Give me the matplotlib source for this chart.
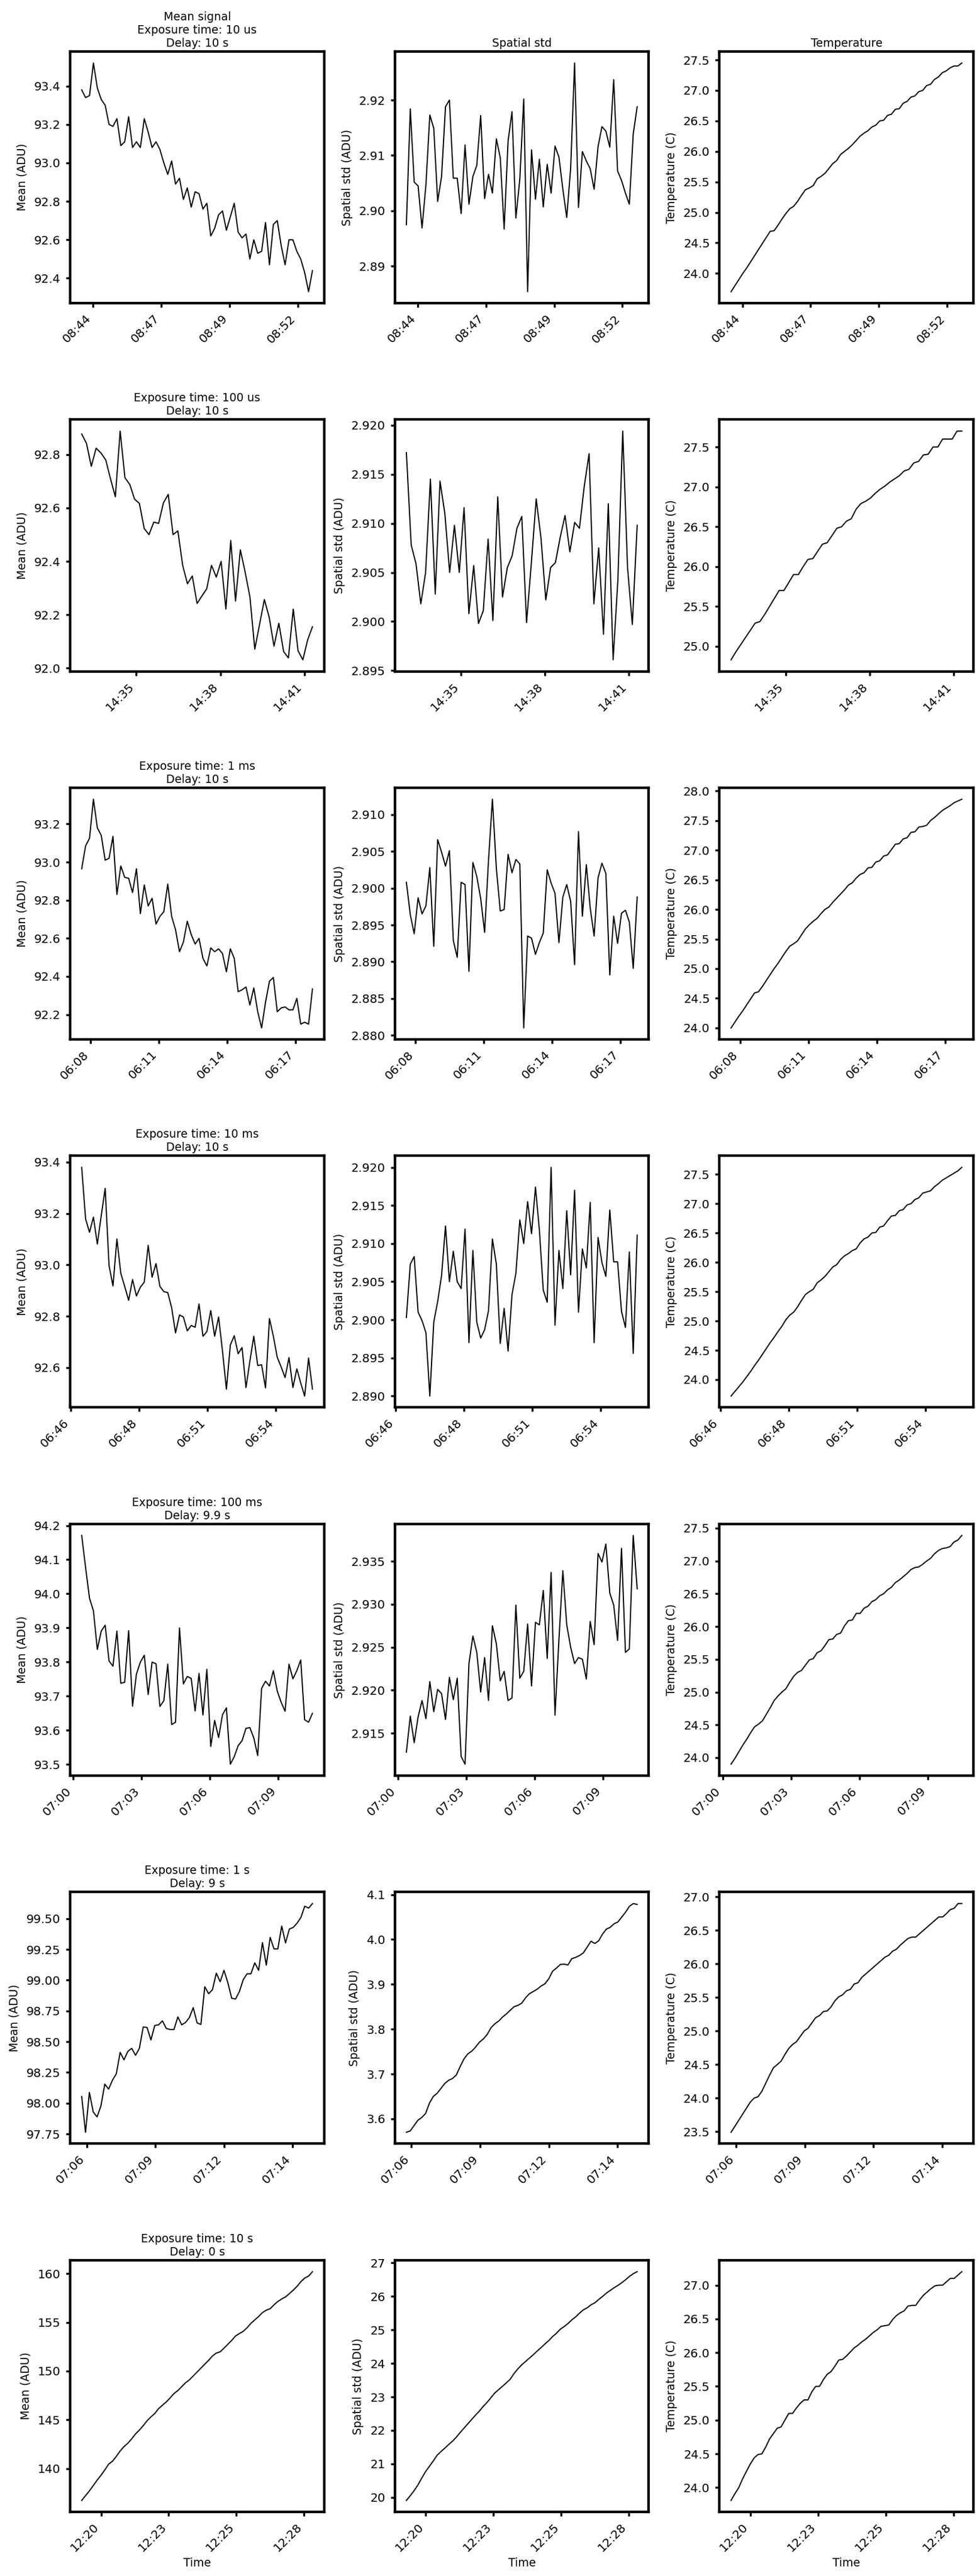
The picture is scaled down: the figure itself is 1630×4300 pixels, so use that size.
import numpy as np
import pandas as pd
import matplotlib
matplotlib.use('Agg')
import matplotlib.pyplot as plt
import matplotlib.dates as mdates

# one row per acquisition run
exposures = ['10 us', '100 us', '1 ms', '10 ms', '100 ms', '1 s', '10 s']
delays = ['10 s', '10 s', '10 s', '10 s', '9.9 s', '9 s', '0 s']
day = '2021-03-01 '
starts = ['08:44:05', '14:33:03', '06:07:36', '06:46:36', '07:00:22', '07:06:18', '12:19:47']
intervals = [8.6, 10.3, 10.31, 9.45, 10.3, 9.24, 8.53]   # seconds between samples
tick_times = [
    ['08:44:30', '08:47:00', '08:49:30', '08:52:00'],
    ['14:35:00', '14:38:00', '14:41:00'],
    ['06:08:00', '06:11:00', '06:14:00', '06:17:00'],
    ['06:46:10', '06:48:55', '06:51:40', '06:54:25'],
    ['07:00:00', '07:03:00', '07:06:00', '07:09:00'],
    ['07:06:30', '07:09:15', '07:12:00', '07:14:45'],
    ['12:20:30', '12:23:00', '12:25:30', '12:28:00'],
]

mean_10us = [93.38, 93.34, 93.35, 93.52, 93.39, 93.33, 93.30, 93.20, 93.19, 93.23,
             93.09, 93.11, 93.24, 93.08, 93.11, 93.08, 93.23, 93.16, 93.08, 93.11,
             93.07, 93.00, 92.94, 93.01, 92.89, 92.92, 92.81, 92.87, 92.77, 92.85,
             92.84, 92.76, 92.79, 92.62, 92.66, 92.73, 92.75, 92.65, 92.72, 92.79,
             92.64, 92.61, 92.63, 92.50, 92.60, 92.53, 92.54, 92.69, 92.47, 92.68,
             92.70, 92.57, 92.47, 92.60, 92.60, 92.54, 92.50, 92.43, 92.33, 92.44]
std_10us = [2.8975, 2.9184, 2.9052, 2.9045, 2.8969, 2.9047, 2.9173, 2.9149, 2.9017, 2.9062,
            2.9188, 2.9200, 2.9059, 2.9059, 2.8995, 2.9119, 2.9012, 2.9062, 2.9082, 2.9172,
            2.9022, 2.9066, 2.9032, 2.9130, 2.9096, 2.8967, 2.9126, 2.9179, 2.8987, 2.9057,
            2.9202, 2.8854, 2.9110, 2.9021, 2.9093, 2.9007, 2.9084, 2.9032, 2.9117, 2.9097,
            2.9039, 2.8988, 2.9077, 2.9267, 2.9006, 2.9107, 2.9090, 2.9076, 2.9039, 2.9116,
            2.9152, 2.9144, 2.9115, 2.9237, 2.9072, 2.9055, 2.9032, 2.9012, 2.9139, 2.9188]
temp_10us = [23.70, 23.80, 23.90, 24.00, 24.09, 24.19, 24.29, 24.39, 24.49, 24.59,
             24.69, 24.70, 24.79, 24.89, 24.98, 25.06, 25.10, 25.18, 25.28, 25.37,
             25.40, 25.44, 25.55, 25.59, 25.64, 25.72, 25.80, 25.85, 25.95, 26.00,
             26.05, 26.11, 26.18, 26.25, 26.30, 26.34, 26.40, 26.43, 26.50, 26.51,
             26.59, 26.61, 26.69, 26.70, 26.79, 26.82, 26.89, 26.91, 26.98, 27.00,
             27.08, 27.10, 27.18, 27.22, 27.29, 27.32, 27.37, 27.40, 27.40, 27.45]

mean_100us = [92.877, 92.842, 92.756, 92.824, 92.806, 92.780, 92.709, 92.642, 92.888, 92.713,
              92.688, 92.633, 92.617, 92.523, 92.500, 92.547, 92.542, 92.619, 92.651, 92.500,
              92.514, 92.385, 92.316, 92.345, 92.242, 92.270, 92.297, 92.385, 92.341, 92.400,
              92.221, 92.478, 92.251, 92.443, 92.359, 92.266, 92.071, 92.164, 92.257, 92.190,
              92.082, 92.168, 92.062, 92.038, 92.221, 92.065, 92.031, 92.106, 92.155]
std_100us = [2.9172, 2.9078, 2.9059, 2.9018, 2.9050, 2.9145, 2.9028, 2.9143, 2.9110, 2.9050,
             2.9098, 2.9050, 2.9116, 2.9008, 2.9057, 2.8998, 2.9011, 2.9084, 2.9001, 2.9127,
             2.9025, 2.9055, 2.9067, 2.9095, 2.9107, 2.8999, 2.9060, 2.9125, 2.9085, 2.9022,
             2.9055, 2.9060, 2.9086, 2.9108, 2.9071, 2.9101, 2.9095, 2.9138, 2.9171, 2.9018,
             2.9075, 2.8987, 2.9120, 2.8961, 2.9043, 2.9194, 2.9055, 2.8997, 2.9098]
temp_100us = [24.83, 24.93, 25.02, 25.11, 25.20, 25.29, 25.31, 25.40, 25.50, 25.60,
              25.70, 25.70, 25.80, 25.90, 25.90, 26.00, 26.09, 26.10, 26.19, 26.28,
              26.30, 26.39, 26.48, 26.50, 26.57, 26.60, 26.72, 26.79, 26.82, 26.86,
              26.92, 26.97, 27.01, 27.06, 27.10, 27.14, 27.20, 27.22, 27.30, 27.32,
              27.40, 27.41, 27.50, 27.50, 27.60, 27.60, 27.60, 27.70, 27.70]

mean_1ms = [92.965, 93.085, 93.125, 93.330, 93.180, 93.140, 93.010, 93.020, 93.135, 92.830,
            92.980, 92.920, 92.915, 92.840, 92.965, 92.730, 92.880, 92.770, 92.810, 92.675,
            92.715, 92.740, 92.885, 92.715, 92.645, 92.530, 92.580, 92.690, 92.620, 92.570,
            92.600, 92.495, 92.455, 92.550, 92.530, 92.545, 92.520, 92.425, 92.545, 92.495,
            92.320, 92.330, 92.345, 92.250, 92.340, 92.215, 92.130, 92.265, 92.375, 92.395,
            92.215, 92.235, 92.240, 92.225, 92.225, 92.285, 92.150, 92.160, 92.150, 92.335]
std_1ms = [2.9008, 2.8964, 2.8938, 2.8987, 2.8965, 2.8976, 2.9028, 2.8921, 2.9066, 2.9049,
           2.9030, 2.9051, 2.8929, 2.8906, 2.9008, 2.9005, 2.8887, 2.9035, 2.9016, 2.8986,
           2.8940, 2.9038, 2.9121, 2.9027, 2.8969, 2.8971, 2.9046, 2.9021, 2.9039, 2.9033,
           2.8810, 2.8935, 2.8932, 2.8910, 2.8926, 2.8939, 2.9025, 2.9007, 2.8993, 2.8926,
           2.8988, 2.9005, 2.8982, 2.8896, 2.9077, 2.8962, 2.9032, 2.8973, 2.8935, 2.9014,
           2.9034, 2.9020, 2.8882, 2.8962, 2.8925, 2.8966, 2.8970, 2.8954, 2.8891, 2.8988]
temp_1ms = [24.00, 24.10, 24.20, 24.29, 24.39, 24.49, 24.59, 24.61, 24.70, 24.80,
            24.90, 25.00, 25.09, 25.19, 25.29, 25.38, 25.42, 25.47, 25.57, 25.67,
            25.74, 25.80, 25.85, 25.93, 26.00, 26.04, 26.12, 26.19, 26.26, 26.33,
            26.41, 26.45, 26.53, 26.59, 26.62, 26.70, 26.71, 26.80, 26.82, 26.90,
            26.92, 27.01, 27.10, 27.11, 27.19, 27.21, 27.30, 27.31, 27.39, 27.40,
            27.42, 27.50, 27.55, 27.61, 27.67, 27.71, 27.75, 27.80, 27.83, 27.86]

mean_10ms = [93.380, 93.179, 93.127, 93.186, 93.081, 93.192, 93.298, 92.997, 92.918, 93.101,
             92.967, 92.916, 92.862, 92.943, 92.879, 92.913, 92.933, 93.076, 92.952, 93.005,
             92.916, 92.896, 92.892, 92.833, 92.735, 92.805, 92.797, 92.743, 92.764, 92.757,
             92.848, 92.722, 92.740, 92.822, 92.722, 92.797, 92.664, 92.516, 92.688, 92.724,
             92.654, 92.678, 92.522, 92.625, 92.722, 92.608, 92.611, 92.521, 92.791, 92.722,
             92.640, 92.602, 92.561, 92.639, 92.522, 92.595, 92.540, 92.489, 92.637, 92.516]
std_10ms = [2.9003, 2.9073, 2.9083, 2.9010, 2.8999, 2.8983, 2.8900, 2.8997, 2.9024, 2.9058,
            2.9123, 2.9050, 2.9090, 2.9050, 2.9041, 2.9119, 2.8970, 2.9091, 2.8997, 2.8976,
            2.8987, 2.9012, 2.9106, 2.9073, 2.8969, 2.9015, 2.8959, 2.9033, 2.9061, 2.9131,
            2.9100, 2.9155, 2.9113, 2.9174, 2.9118, 2.9039, 2.9023, 2.9200, 2.8993, 2.9091,
            2.9041, 2.9143, 2.9059, 2.9170, 2.9010, 2.9093, 2.9068, 2.9154, 2.8970, 2.9108,
            2.9075, 2.9057, 2.9144, 2.9076, 2.9076, 2.9011, 2.8990, 2.9089, 2.8956, 2.9111]
temp_10ms = [23.72, 23.80, 23.88, 23.96, 24.05, 24.14, 24.24, 24.33, 24.43, 24.53,
             24.63, 24.72, 24.82, 24.91, 25.02, 25.10, 25.15, 25.24, 25.35, 25.45,
             25.50, 25.54, 25.65, 25.70, 25.76, 25.84, 25.92, 25.96, 26.05, 26.11,
             26.15, 26.20, 26.23, 26.33, 26.40, 26.43, 26.50, 26.51, 26.60, 26.62,
             26.71, 26.79, 26.80, 26.88, 26.90, 26.98, 27.00, 27.07, 27.10, 27.18,
             27.20, 27.22, 27.29, 27.34, 27.40, 27.44, 27.48, 27.52, 27.56, 27.62]

mean_100ms = [94.171, 94.077, 93.987, 93.950, 93.837, 93.891, 93.908, 93.803, 93.788, 93.891,
              93.738, 93.741, 93.892, 93.671, 93.765, 93.800, 93.820, 93.705, 93.800, 93.795,
              93.670, 93.687, 93.794, 93.617, 93.624, 93.900, 93.736, 93.758, 93.752, 93.657,
              93.767, 93.645, 93.779, 93.553, 93.629, 93.579, 93.646, 93.666, 93.501, 93.523,
              93.555, 93.570, 93.606, 93.608, 93.578, 93.526, 93.723, 93.744, 93.730, 93.775,
              93.715, 93.682, 93.656, 93.794, 93.751, 93.775, 93.806, 93.631, 93.624, 93.650]
std_100ms = [2.9128, 2.9170, 2.9139, 2.9169, 2.9188, 2.9167, 2.9210, 2.9175, 2.9201, 2.9196,
             2.9166, 2.9215, 2.9189, 2.9214, 2.9123, 2.9114, 2.9231, 2.9263, 2.9244, 2.9198,
             2.9238, 2.9188, 2.9275, 2.9254, 2.9211, 2.9222, 2.9188, 2.9191, 2.9299, 2.9214,
             2.9222, 2.9277, 2.9205, 2.9279, 2.9276, 2.9316, 2.9237, 2.9337, 2.9171, 2.9259,
             2.9339, 2.9276, 2.9250, 2.9231, 2.9238, 2.9236, 2.9213, 2.9280, 2.9253, 2.9359,
             2.9349, 2.9370, 2.9313, 2.9299, 2.9258, 2.9365, 2.9244, 2.9248, 2.9380, 2.9318]
temp_100ms = [23.90, 23.99, 24.09, 24.19, 24.28, 24.38, 24.47, 24.51, 24.56, 24.66,
              24.76, 24.87, 24.94, 25.00, 25.05, 25.15, 25.24, 25.30, 25.33, 25.41,
              25.49, 25.51, 25.60, 25.63, 25.71, 25.80, 25.81, 25.88, 25.90, 26.01,
              26.09, 26.10, 26.20, 26.20, 26.28, 26.31, 26.38, 26.41, 26.47, 26.50,
              26.56, 26.60, 26.67, 26.71, 26.76, 26.81, 26.87, 26.90, 26.91, 26.95,
              27.00, 27.04, 27.11, 27.16, 27.19, 27.20, 27.22, 27.29, 27.32, 27.39]

mean_1s = [98.054, 97.763, 98.087, 97.928, 97.888, 97.977, 98.155, 98.114, 98.187, 98.239,
           98.413, 98.352, 98.421, 98.446, 98.389, 98.446, 98.620, 98.615, 98.514, 98.632,
           98.637, 98.669, 98.607, 98.599, 98.599, 98.701, 98.637, 98.656, 98.696, 98.777,
           98.653, 98.640, 98.947, 98.890, 98.922, 99.057, 98.987, 99.080, 98.979, 98.853,
           98.847, 98.907, 99.004, 99.052, 99.052, 99.141, 99.080, 99.306, 99.122, 99.348,
           99.254, 99.254, 99.440, 99.303, 99.416, 99.429, 99.464, 99.510, 99.602, 99.586,
           99.623]
std_1s = [3.570, 3.573, 3.585, 3.597, 3.603, 3.612, 3.635, 3.650, 3.657, 3.668,
          3.679, 3.686, 3.690, 3.698, 3.717, 3.734, 3.745, 3.751, 3.760, 3.771,
          3.778, 3.788, 3.803, 3.812, 3.818, 3.827, 3.834, 3.842, 3.850, 3.853,
          3.858, 3.870, 3.879, 3.884, 3.889, 3.896, 3.901, 3.912, 3.929, 3.936,
          3.944, 3.945, 3.943, 3.957, 3.960, 3.964, 3.970, 3.983, 3.996, 3.991,
          3.997, 4.012, 4.023, 4.027, 4.035, 4.039, 4.050, 4.061, 4.074, 4.080,
          4.078]
temp_1s = [23.49, 23.58, 23.67, 23.76, 23.85, 23.94, 24.00, 24.02, 24.10, 24.22,
           24.34, 24.45, 24.50, 24.55, 24.65, 24.74, 24.80, 24.84, 24.92, 25.00,
           25.04, 25.12, 25.20, 25.23, 25.29, 25.30, 25.36, 25.45, 25.51, 25.54,
           25.60, 25.62, 25.70, 25.72, 25.80, 25.85, 25.90, 25.95, 26.00, 26.05,
           26.10, 26.13, 26.19, 26.22, 26.28, 26.33, 26.38, 26.40, 26.40, 26.45,
           26.50, 26.55, 26.60, 26.65, 26.70, 26.70, 26.75, 26.81, 26.83, 26.90,
           26.90]

mean_10s = [136.73, 137.22, 137.70, 138.25, 138.80, 139.30, 139.85, 140.45, 140.75, 141.25,
            141.80, 142.25, 142.60, 143.05, 143.55, 143.95, 144.40, 144.90, 145.30, 145.65,
            146.15, 146.50, 146.84, 147.25, 147.70, 148.00, 148.40, 148.80, 149.10, 149.50,
            149.90, 150.30, 150.71, 151.10, 151.55, 151.85, 151.98, 152.35, 152.75, 153.15,
            153.60, 153.85, 154.08, 154.45, 154.90, 155.25, 155.60, 156.00, 156.25, 156.40,
            156.80, 157.14, 157.40, 157.61, 157.95, 158.30, 158.70, 159.18, 159.55, 159.75,
            160.20]
std_10s = [19.91, 20.05, 20.20, 20.37, 20.58, 20.77, 20.93, 21.09, 21.26, 21.37,
           21.47, 21.58, 21.68, 21.80, 21.94, 22.07, 22.20, 22.33, 22.46, 22.58,
           22.72, 22.84, 22.98, 23.12, 23.22, 23.32, 23.42, 23.53, 23.70, 23.84,
           23.96, 24.06, 24.16, 24.26, 24.37, 24.47, 24.58, 24.68, 24.80, 24.90,
           25.02, 25.10, 25.19, 25.30, 25.39, 25.50, 25.60, 25.66, 25.75, 25.81,
           25.91, 26.00, 26.10, 26.18, 26.26, 26.33, 26.41, 26.50, 26.60, 26.68,
           26.74]
temp_10s = [23.81, 23.91, 24.00, 24.13, 24.24, 24.35, 24.44, 24.49, 24.50, 24.60,
            24.72, 24.80, 24.88, 24.90, 25.00, 25.10, 25.10, 25.18, 25.25, 25.30,
            25.30, 25.42, 25.50, 25.50, 25.60, 25.68, 25.72, 25.80, 25.89, 25.90,
            25.95, 26.01, 26.07, 26.11, 26.16, 26.20, 26.25, 26.30, 26.34, 26.39,
            26.40, 26.41, 26.49, 26.55, 26.59, 26.62, 26.69, 26.70, 26.70, 26.78,
            26.85, 26.90, 26.95, 26.99, 27.00, 27.00, 27.05, 27.10, 27.10, 27.15,
            27.20]

means = [mean_10us, mean_100us, mean_1ms, mean_10ms, mean_100ms, mean_1s, mean_10s]
stds = [std_10us, std_100us, std_1ms, std_10ms, std_100ms, std_1s, std_10s]
temps = [temp_10us, temp_100us, temp_1ms, temp_10ms, temp_100ms, temp_1s, temp_10s]

plt.rcParams['font.family'] = 'DejaVu Sans'
plt.rcParams['axes.linewidth'] = 3.1
for ax_name in ['xtick', 'ytick']:
    plt.rcParams[ax_name + '.major.width'] = 2.4
    plt.rcParams[ax_name + '.major.size'] = 5
    plt.rcParams[ax_name + '.major.pad'] = 6.5
    plt.rcParams[ax_name + '.labelsize'] = 14.4

fig, axes = plt.subplots(7, 3, figsize=(16.3, 43), dpi=100)
fig.subplots_adjust(left=0.0718, right=0.9963, top=0.98, bottom=0.0249,
                    wspace=0.279, hspace=0.463)

labels = ['Mean (ADU)', 'Spatial std (ADU)', 'Temperature (C)']
fmt = mdates.DateFormatter('%H:%M')

for r in range(7):
    n = len(means[r])
    t = (pd.Timestamp(day + starts[r]) +
         pd.to_timedelta(np.arange(n) * intervals[r], unit='s')).to_numpy()
    ticks = pd.to_datetime([day + s for s in tick_times[r]]).to_numpy()
    for c, series in enumerate([means[r], stds[r], temps[r]]):
        ax = axes[r, c]
        ax.plot(t, series, color='black', lw=1.4)
        ax.set_ylabel(labels[c], fontsize=13.5, labelpad=7)
        ax.set_xticks(ticks)
        ax.xaxis.set_major_formatter(fmt)
        plt.setp(ax.get_xticklabels(), rotation=45, ha='right')
        if r == 6:
            ax.set_xlabel('Time', fontsize=13.5)
    title = 'Exposure time: %s\nDelay: %s' % (exposures[r], delays[r])
    if r == 0:
        title = 'Mean signal\n' + title
        axes[r, 1].set_title('Spatial std', fontsize=13.5)
        axes[r, 2].set_title('Temperature', fontsize=13.5)
    axes[r, 0].set_title(title, fontsize=13.5)

fig.savefig('out.png', dpi=100)
